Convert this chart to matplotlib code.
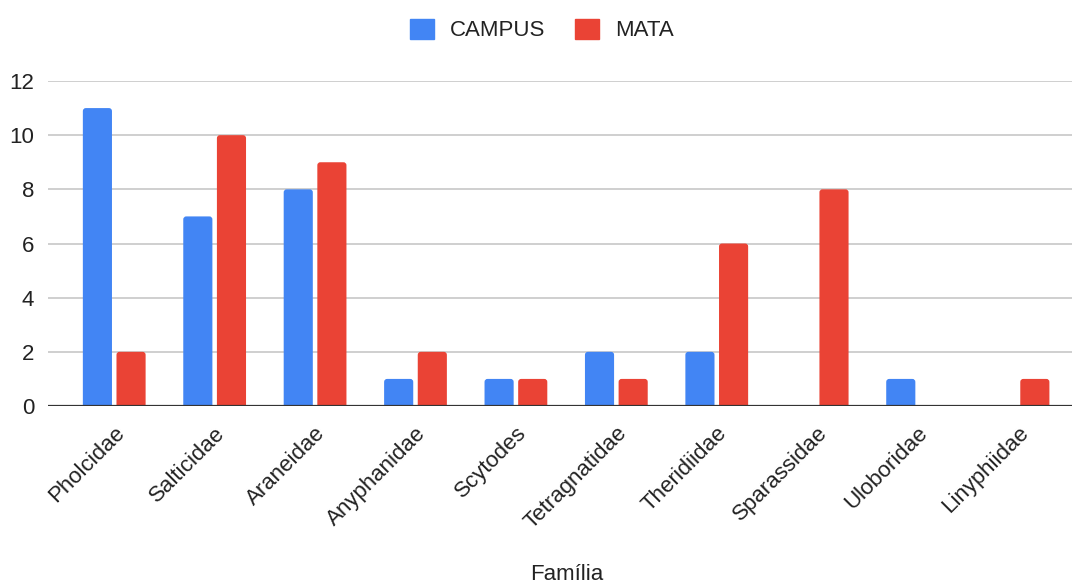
import matplotlib
matplotlib.use("Agg")
import matplotlib.pyplot as plt
from matplotlib.patches import FancyBboxPatch
import numpy as np

familias = ["Pholcidae", "Salticidae", "Araneidae", "Anyphanidae", "Scytodes",
            "Tetragnatidae", "Theridiidae", "Sparassidae", "Uloboridae", "Linyphiidae"]
campus = [11, 7, 8, 1, 1, 2, 2, 0, 1, 0]
mata = [2, 10, 9, 2, 1, 1, 6, 8, 0, 1]
y_ticks = [0, 2, 4, 6, 8, 10, 12]

BLUE = "#4285F4"
RED = "#EA4335"
TEXT = "#222222"
FS = 16

plt.rcParams["font.family"] = ["Liberation Sans", "DejaVu Sans"]

W, H = 1073, 586
fig = plt.figure(figsize=(W / 100, H / 100), dpi=100)
ax = fig.add_axes([48 / W, (H - 406) / H, (1072 - 48) / W, (406 - 81) / H])

x = np.arange(len(familias))
bw = 0.29
xlim = (-0.657, 9.54)
ylim = (0, 12)
ax.set_xlim(*xlim)
ax.set_ylim(*ylim)

# pixels per data unit, used to keep the corner rounding circular
ppx = (1072 - 48) / (xlim[1] - xlim[0])
ppy = (406 - 81) / (ylim[1] - ylim[0])

def rounded_bars(xs, vals, color, label):
    bars = ax.bar(xs, vals, width=bw, color=color, label=label, zorder=3)
    for b in bars:
        h = b.get_height()
        b.set_visible(False)
        if h <= 0:
            continue
        r = 3.0 / ppx
        patch = FancyBboxPatch((b.get_x(), -0.3), b.get_width(), h + 0.3,
                               boxstyle=f"round,pad=0,rounding_size={r}",
                               mutation_aspect=ppx / ppy,
                               facecolor=color, edgecolor="none", zorder=3)
        ax.add_patch(patch)
    return bars

rounded_bars(x - 0.165, campus, BLUE, "CAMPUS")
rounded_bars(x + 0.17, mata, RED, "MATA")

ax.set_yticks(y_ticks)
ax.yaxis.grid(True, color="#cccccc", linewidth=1.3, zorder=0)
ax.axhline(0, color="#333333", linewidth=1.6, zorder=4)
for s in ax.spines.values():
    s.set_visible(False)
ax.tick_params(axis="y", length=0, pad=10, labelsize=FS, labelcolor=TEXT)
ax.tick_params(axis="x", length=0, pad=12, labelsize=FS, labelcolor=TEXT)
ax.set_xticks(x)
ax.set_xticklabels(familias)
for lbl in ax.get_xticklabels():
    lbl.set_rotation(45)
    lbl.set_ha("right")
    lbl.set_va("top")
    lbl.set_rotation_mode("anchor")

fig.text(567 / W, 1 - 574 / H, "Família", ha="center", va="center",
         fontsize=FS, color=TEXT)

handles = [plt.Rectangle((0, 0), 1, 1, color=BLUE), plt.Rectangle((0, 0), 1, 1, color=RED)]
fig.legend(handles, ["CAMPUS", "MATA"], loc="center",
           bbox_to_anchor=(542 / W, 1 - 30 / H), ncol=2,
           frameon=False, fontsize=FS, handlelength=1.05, handleheight=1.05,
           handletextpad=0.73, columnspacing=1.36, labelcolor=TEXT)

fig.savefig("out.png", dpi=100)
